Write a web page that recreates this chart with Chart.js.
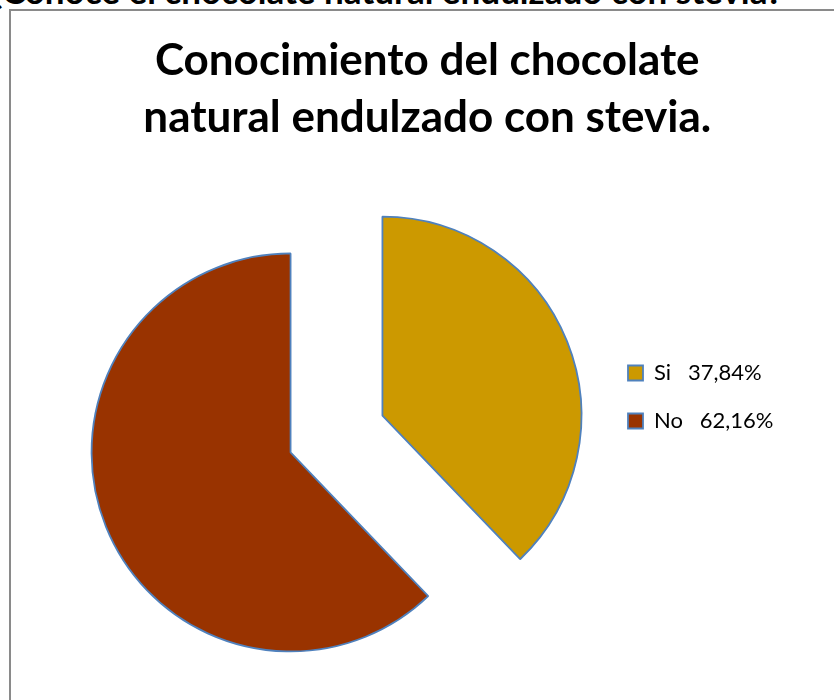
<!DOCTYPE html>
<html>
<head>
<meta charset="utf-8">
<script src="https://cdn.jsdelivr.net/npm/chart.js"></script>
<style>
  html, body { margin: 0; padding: 0; background: #ffffff; }
  body { width: 834px; height: 700px; overflow: hidden; position: relative; }
  #question { position: absolute; left: -13px; top: -27px; white-space: nowrap;
    font-family: Lato, "Open Sans", sans-serif; font-weight: bold; font-size: 35px; line-height: 35px; color: #000; }
  #frame { position: absolute; left: 9px; top: 9px; width: 842px; height: 772px;
    border: 2px solid #8a8a8a; background: #fff; }
  #c { display: block; }
</style>
</head>
<body>
<div id="question">¿Conoce el chocolate natural endulzado con stevia?</div>
<div id="frame"><canvas id="c" width="842" height="772"></canvas></div>
<script>
// ---- data ----
const categories = ['Si', 'No'];
const percentValues = [37.84, 62.16];
const percentLabels = ['37,84%', '62,16%'];
const titleLines = ['Conocimiento del chocolate', 'natural endulzado con stevia.'];
const sliceColors = ['#CC9900', '#993300'];

const legendLabels = categories.map((c, i) => c + '   ' + percentLabels[i]);

// exploded pie: translate each arc outward along its bisector
const EXPLODE = 49.5;
const Arc = Chart.ArcElement || Chart.elements.ArcElement;
const baseDraw = Arc.prototype.draw;
Arc.prototype.draw = function (ctx) {
  const mid = (this.startAngle + this.endAngle) / 2;
  ctx.save();
  ctx.translate(Math.cos(mid) * EXPLODE, Math.sin(mid) * EXPLODE);
  baseDraw.call(this, ctx);
  ctx.restore();
};

// legend geometry: place legend so its box column starts at a fixed x
const CANVAS_W = 842;
const LEGEND_FONT = 22, LEGEND_BOX = 15, LEGEND_PAD = 26;
const LEGEND_LEFT = 590;
const mctx = document.createElement('canvas').getContext('2d');
mctx.font = LEGEND_FONT + 'px Lato';
const maxText = Math.max(...legendLabels.map(t => mctx.measureText(t).width));
const legendW = LEGEND_PAD + LEGEND_BOX + LEGEND_FONT / 2 + maxText + 10;
const padRight = CANVAS_W - LEGEND_LEFT - legendW - 1;
const PIE_CX = 325;
const padLeft = 2 * PIE_CX - LEGEND_LEFT;

new Chart(document.getElementById('c'), {
  type: 'pie',
  data: {
    labels: legendLabels,
    datasets: [{
      data: percentValues,
      backgroundColor: sliceColors,
      borderColor: '#4F81BD',
      borderWidth: 1.8
    }]
  },
  options: {
    responsive: false,
    animation: false,
    radius: 199,
    layout: { padding: { left: padLeft, right: padRight, top: 0, bottom: 0 } },
    plugins: {
      tooltip: { enabled: false },
      title: {
        display: true,
        text: titleLines,
        color: '#000000',
        font: { family: 'Lato', weight: 'bold', size: 44, lineHeight: '57px' },
        padding: { top: 21.5, bottom: -61.5 }
      },
      legend: {
        display: true,
        position: 'right',
        labels: {
          color: '#000000',
          font: { family: 'Lato', size: LEGEND_FONT },
          boxWidth: LEGEND_BOX,
          boxHeight: LEGEND_BOX,
          padding: LEGEND_PAD
        }
      }
    }
  }
});
</script>
</body>
</html>
